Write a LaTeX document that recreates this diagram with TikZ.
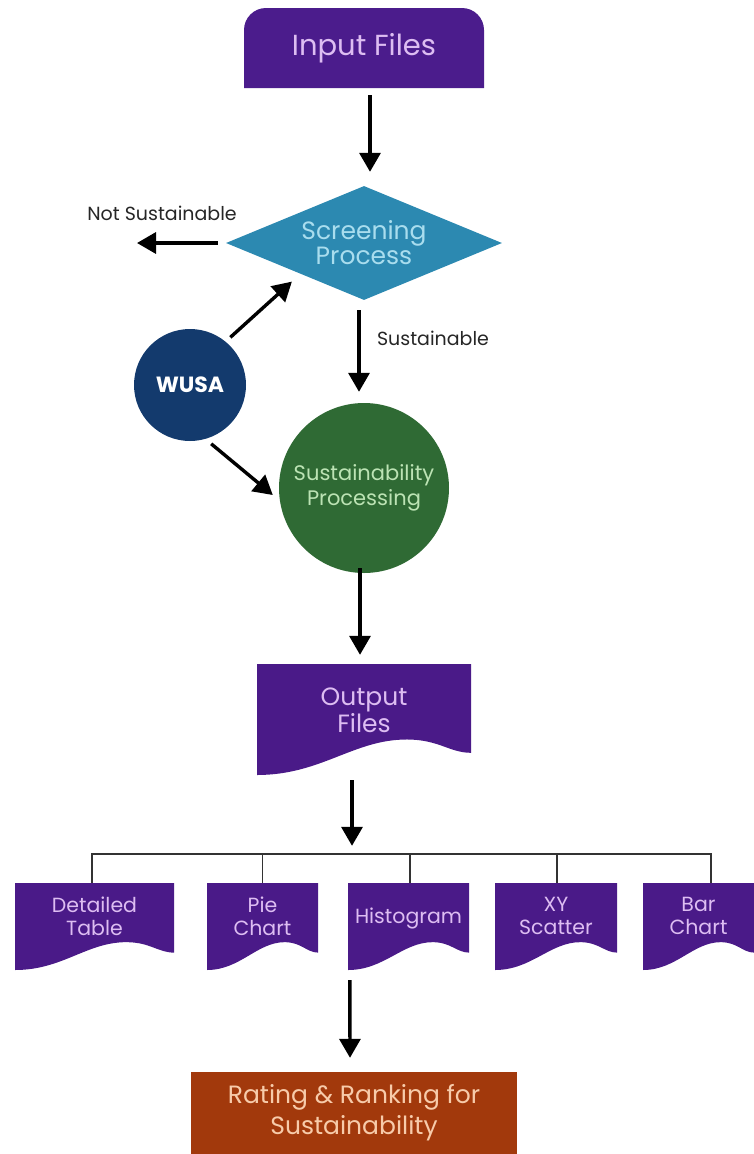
\documentclass[tikz,border=0pt]{standalone}
\usepackage{fontspec}
\setmainfont{Poppins}
\usetikzlibrary{shapes.geometric,arrows.meta,calc}
\definecolor{inpurple}{HTML}{4B1C8C}
\definecolor{docpurple}{HTML}{4A1A88}
\definecolor{lav}{HTML}{DDBDF2}
\definecolor{teal}{HTML}{2C89B1}
\definecolor{lteal}{HTML}{A9DDEE}
\definecolor{navy}{HTML}{133A6D}
\definecolor{sgreen}{HTML}{2F6A34}
\definecolor{lgreen}{HTML}{BCE3B4}
\definecolor{rust}{HTML}{A2390C}
\definecolor{peach}{HTML}{F7CBAA}
\newcommand\docfill[4]{%
 \fill[docpurple] (#1,#2) -- (#3,#2) -- (#3,{#4-0.2*(#4-#2)})
 .. controls ({#3-0.1*(#3-#1)},{#4-0.2*(#4-#2)}) and ({#3-0.15*(#3-#1)},{#4-0.32*(#4-#2)}) .. ({#1+0.7*(#3-#1)},{#4-0.32*(#4-#2)})
 .. controls ({#1+0.45*(#3-#1)},{#4-0.32*(#4-#2)}) and ({#1+0.3*(#3-#1)},#4) .. (#1,#4) -- cycle;}
\tikzset{
  arr/.style={line width=3.4pt,-{Triangle[length=19pt,width=21pt]}},
  bus/.style={line width=1.8pt,draw=black!80},
  lbl/.style={font=\fontsize{19}{22}\selectfont,text=black!85},
  box/.style={inner sep=0pt,align=center},
  doctxt/.style={box,text=lav,font=\fontsize{20.5}{23}\selectfont},
}
\begin{document}
\begin{tikzpicture}[x=1pt,y=-1pt]
\useasboundingbox (0,0) rectangle (754,1154);
% Input files
\fill[inpurple] (244,88) [rounded corners=22pt] -- (244,8) -- (484,8) [sharp corners] -- (484,88) -- cycle;
\node[box,minimum width=240pt,minimum height=80pt,text=lav,font=\fontsize{29}{32}\selectfont] (in) at (364,48) {Input Files};
% Screening diamond
\node[diamond,fill=teal,inner sep=0pt,minimum width=276pt,minimum height=114pt,aspect=2.4,text=lteal,align=center,font=\fontsize{25}{25}\selectfont] (scr) at (364,243) {Screening\\Process};
\draw[arr] ([shift={(6,7)}]in.south) -- ([shift={(6,-14)}]scr.north);
\node[lbl] (ns) at (162,213) {Not Sustainable};
\coordinate (nsend) at (137,243);
\draw[arr] ([xshift=-8pt]scr.west) -- (nsend);
% WUSA
\node[circle,fill=navy,minimum size=112pt,inner sep=0pt,text=white,font=\fontsize{22}{24}\selectfont\bfseries] (wusa) at (190,385) {WUSA};
% Sustainability processing
\node[circle,fill=sgreen,minimum size=170pt,inner sep=0pt,text=lgreen,align=center,font=\fontsize{21}{25}\selectfont] (sp) at (364,488) {Sustainability\\Processing};
\draw[arr] ([shift={(5,-4)}]wusa.51) -- ([shift={(-3,10)}]scr.south west);
\draw[arr] ([shift={(2,6)}]wusa.-70) -- ([shift={(-6,7)}]sp.west);
\draw[arr] ([shift={(-5,10)}]scr.south) -- ([shift={(-5,-11)}]sp.north);
\node[lbl] (sus) at (433,338) {Sustainable};
% Output files
\docfill{257}{664}{471}{775}
\node[doctxt,minimum width=214pt,minimum height=111pt,font=\fontsize{25}{25}\selectfont] (out) at (364,719.5) {Output\\Files\\[-6pt]};
\draw[arr] ([shift={(-4,-5)}]sp.south) -- ([shift={(-4,-9)}]out.north);
% Small documents
\docfill{15}{883}{174}{970}
\docfill{207}{883}{318}{970}
\docfill{348}{883}{469}{970}
\docfill{495}{883}{617}{970}
\docfill{643}{883}{754}{970}
\node[doctxt,minimum width=159pt,minimum height=87pt] (dt) at (94.5,926.5) {Detailed\\Table\\[-2pt]};
\node[doctxt,minimum width=111pt,minimum height=87pt] (pc) at (262.5,926.5) {Pie\\Chart\\[-2pt]};
\node[doctxt,minimum width=121pt,minimum height=87pt] (hg) at (408.5,926.5) {Histogram\\[-2pt]};
\node[doctxt,minimum width=122pt,minimum height=87pt] (xy) at (556,926.5) {XY\\Scatter\\[-2pt]};
\node[doctxt,minimum width=111pt,minimum height=87pt] (bc) at (698.5,926.5) {Bar\\Chart\\[-2pt]};
\draw[arr] ([shift={(-12,5)}]out.south) -- ([shift={(-12,-37)}]hg.north west -| out.south);
\draw[bus] ([xshift=-2.5pt]dt.north) -- ++(0,-29) -| ([xshift=12.5pt]bc.north);
\draw[bus] (pc.north) -- ++(0,-29);
\draw[bus] ([xshift=1.5pt]hg.north) -- ++(0,-29);
\draw[bus] ([xshift=1pt]xy.north) -- ++(0,-29);
% Rating
\node[box,fill=rust,minimum width=326pt,minimum height=82pt,text=peach,font=\fontsize{25}{31}\selectfont] (rr) at (354,1113) {Rating \& Ranking for\\Sustainability};
\draw[arr] ([shift={(2,10)}]hg.south west) -- ([shift={(-4,-14)}]rr.north);
\end{tikzpicture}
\end{document}
